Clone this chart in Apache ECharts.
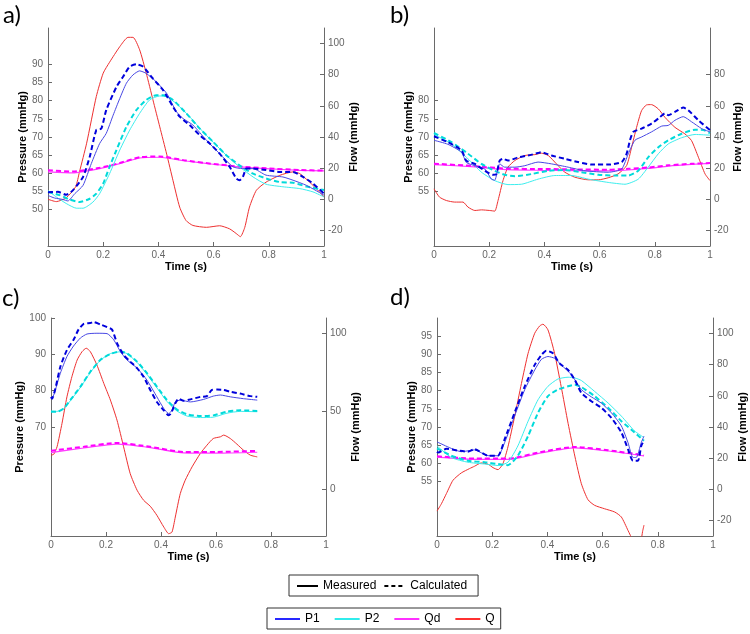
<!DOCTYPE html>
<html><head><meta charset="utf-8">
<script src="https://cdn.jsdelivr.net/npm/echarts@6/dist/echarts.min.js"></script>
<style>html,body{margin:0;padding:0;background:#fff}#c{width:750px;height:634px}</style>
</head><body><div id="c"></div>
<script>
// ---------- Panel a ----------
const aQ_t = [0,0.03,0.066,0.10,0.114,0.14,0.175,0.20,0.223,0.26,0.29,0.308,0.332,0.356,0.38,0.405,0.43,0.453,0.477,0.50,0.525,0.574,0.622,0.658,0.682,0.697,0.713,0.73,0.755,0.79,0.84,0.888,0.912,0.948,0.984,1];
const aQ   = [0,-1.5,1,8,17.6,36,66,81,88,98,104,104,96,81,64,46.5,29,12,-5,-13.6,-16.8,-18,-17,-19,-22,-24,-18,-5,5.8,11,15.4,17.6,16.5,11,4.7,1.5];
const aP1m_t = [0,0.024,0.054,0.072,0.097,0.127,0.157,0.187,0.211,0.236,0.26,0.284,0.308,0.332,0.356,0.392,0.43,0.465,0.489,0.525,0.574,0.622,0.67,0.706,0.743,0.79,0.851,0.888,0.936,1];
const aP1m   = [53.9,53.2,52.8,52.4,54.4,56.7,62.7,68.2,71,76,80.6,84.8,87.1,88.2,87.5,85.2,82,77,75.1,73.3,69.1,65.4,61.8,61.3,61.3,59.5,59,58.1,56.7,54];
const aP1c_t = [0,0.036,0.066,0.09,0.127,0.151,0.175,0.193,0.211,0.248,0.272,0.296,0.32,0.344,0.38,0.417,0.453,0.477,0.513,0.55,0.586,0.622,0.658,0.682,0.694,0.706,0.719,0.743,0.79,0.84,0.888,0.924,0.96,1];
const aP1c   = [54.8,54.9,54.1,55.3,59,64.5,71.9,72.3,77.4,83.8,86.6,89.4,90,89.4,86.1,82.9,78.3,75.6,73.3,70.5,68.2,65.4,61.8,58.6,58.1,59,61.3,61.3,60.9,60.4,60.4,59,57.2,54.4];
const aP2m_t = [0,0.03,0.066,0.103,0.127,0.163,0.187,0.223,0.26,0.296,0.332,0.368,0.405,0.43,0.465,0.513,0.562,0.61,0.658,0.694,0.743,0.79,0.851,0.912,0.96,1];
const aP2m   = [55.3,53.5,51.7,50.4,50.4,52.1,54.4,59.9,66.4,71.9,76.5,80.2,81.3,81.1,79.2,75.6,71.4,67.7,64.1,61.8,59,57,56.3,55.8,54.9,53.5];
const aP2c_t = [0,0.042,0.078,0.115,0.151,0.175,0.2,0.223,0.248,0.284,0.32,0.356,0.392,0.417,0.453,0.501,0.55,0.598,0.646,0.694,0.743,0.79,0.84,0.888,0.936,1];
const aP2c   = [54.9,54,52.8,52.1,53,54.4,57.2,61.8,66.4,72.8,77.4,80.2,81.5,81.5,80.2,76.5,72.3,68.7,65,62.2,59.9,58.6,57.6,57.4,56.4,55.4];
const aQd_t = [0,0.09,0.187,0.26,0.332,0.405,0.5,0.598,0.694,0.79,0.912,1];
const aQdm  = [17.6,16.9,19.7,22.9,26.5,27,24.6,22.5,20.8,19.7,18.6,18.2];
const aQdc  = [18.6,17.8,20.2,23.3,27,27.5,24.9,22.7,21,19.9,18.8,18.4];

// ---------- Panel b ----------
const bQ_t = [0,0.02,0.045,0.075,0.105,0.123,0.148,0.172,0.202,0.22,0.232,0.25,0.268,0.293,0.329,0.365,0.389,0.414,0.444,0.474,0.51,0.559,0.595,0.631,0.667,0.698,0.716,0.734,0.752,0.77,0.788,0.813,0.837,0.873,0.909,0.933,0.958,0.982,1];
const bQ   = [6.7,1.4,-0.8,-1.8,-1.8,-5,-7.2,-6.8,-7.2,-7.6,-0.8,12,20.6,24.9,28.1,28.7,29.6,28.1,22.7,17.4,14.2,12.5,12.5,13.8,16.3,21.7,33.4,46.2,56.9,60.6,60.8,58,52.6,46.2,42,37.7,27,16.3,12];
const bP1m_t = [0,0.05,0.1,0.117,0.148,0.184,0.208,0.22,0.238,0.256,0.293,0.329,0.377,0.426,0.486,0.547,0.631,0.68,0.704,0.728,0.752,0.788,0.825,0.849,0.873,0.903,0.933,0.97,1];
const bP1m   = [69.1,68,65.8,63,62.1,61.2,58.4,58.1,62.6,61.7,61.7,62.1,63.1,62.6,61.7,60.7,60.3,61.2,65.4,69.1,70,71.4,73,73.2,74.6,75.6,74.2,72.3,71.4];
const bP1c_t = [0,0.05,0.1,0.117,0.148,0.184,0.214,0.226,0.238,0.25,0.268,0.305,0.341,0.377,0.389,0.426,0.474,0.522,0.571,0.631,0.68,0.698,0.71,0.722,0.752,0.788,0.813,0.837,0.849,0.873,0.903,0.921,0.958,1];
const bP1c   = [70.2,68.6,66.3,63.5,62.6,60.7,59.6,59.8,63.5,64,63.5,64.4,64.9,65.6,65.8,64.9,64,63.1,62.4,62.4,63.1,65.4,69.1,71.4,72.3,73.7,75.1,76.5,76,76.9,78.1,77.4,74.6,71.9];
const bP2m_t = [0,0.063,0.123,0.172,0.22,0.268,0.317,0.377,0.438,0.498,0.559,0.631,0.692,0.74,0.776,0.813,0.849,0.897,0.946,1];
const bP2m   = [70.7,68.1,64,60.3,58,56.9,57,58.4,59.4,59.4,58.4,57.5,57,58.4,61.7,65.4,68.1,69.8,70.7,70.5];
const bP2c_t = [0,0.063,0.123,0.172,0.22,0.256,0.293,0.353,0.414,0.474,0.534,0.595,0.655,0.704,0.74,0.776,0.813,0.849,0.897,0.946,0.976,1];
const bP2c   = [71.1,68.6,65.4,62.6,60.7,59.6,59.2,59.8,60.7,60.9,60.3,59.6,59.4,59.4,60.7,64.4,67.2,69.1,70.9,72,71.9,71.1];
const bQd_t = [0,0.148,0.268,0.389,0.51,0.631,0.704,0.776,0.849,0.933,1];
const bQdm  = [22.3,20.8,19,18.6,18.4,18.2,18.8,19.8,21.3,22.4,23];
const bQdc  = [22.9,21.3,19.6,19.5,19.2,19,19.6,20.4,21.8,22.8,23.3];

// ---------- Panel c ----------
const cQ_t = [0,0.01,0.022,0.04,0.058,0.076,0.095,0.113,0.128,0.143,0.167,0.192,0.216,0.24,0.264,0.288,0.313,0.337,0.361,0.385,0.41,0.428,0.44,0.452,0.47,0.488,0.513,0.543,0.567,0.59,0.616,0.628,0.652,0.676,0.7,0.725,0.75];
const cQ   = [21.9,22.5,27.3,42.3,59.4,72.3,83,88.4,90.6,88.4,79.8,68,57.3,44.4,27.3,10.1,-0.6,-7.1,-10.9,-16.7,-24.2,-28.5,-27.5,-17.8,-2.8,5.8,14.4,23,28.3,32.6,33.7,34.8,32.6,29,25.1,21.9,20.8];
const cP1m_t = [0,0.01,0.034,0.058,0.082,0.107,0.131,0.167,0.204,0.228,0.252,0.276,0.313,0.349,0.385,0.41,0.428,0.44,0.452,0.47,0.507,0.555,0.59,0.616,0.652,0.7,0.75];
const cP1m   = [77.8,78.8,84.8,89.4,92.3,94.5,95.6,95.8,95.7,94,90.8,88.5,86.2,82.9,78.3,75.1,73.7,74.6,76.9,77.4,76.9,77.6,78.5,78.8,78.3,77.8,77.4];
const cP1c_t = [0,0.004,0.016,0.034,0.058,0.082,0.1,0.119,0.143,0.155,0.18,0.204,0.222,0.24,0.264,0.288,0.313,0.337,0.361,0.385,0.41,0.428,0.436,0.452,0.464,0.482,0.507,0.543,0.567,0.585,0.604,0.628,0.652,0.688,0.725,0.75];
const cP1c   = [78.3,77.8,80.6,86.6,91.2,94,96.8,98.4,98.6,98.9,98.2,97.5,96.8,93.1,89.8,88,86.2,83.8,80.2,76.9,74.6,73.2,73.7,76.5,77.8,77.2,77.6,78.3,78.5,80.2,80.3,80.2,79.7,79.2,78.5,78.3];
const cP2_t  = [0,0.022,0.046,0.07,0.107,0.143,0.18,0.216,0.252,0.276,0.313,0.349,0.385,0.422,0.458,0.495,0.543,0.59,0.64,0.688,0.75];
const cP2m   = [74.4,74.3,75,77.2,80.9,85,88.4,90.2,90.7,90.2,87.8,84.5,80.8,77,74.4,73,72.6,72.7,73.8,74.3,74.2];
const cP2c   = [74.2,74.2,75.1,77.4,81.1,85.2,88.5,90.1,90.8,90.3,88,84.8,81.1,77.4,74.8,73.5,73,73.2,74.2,74.6,74.4];
const cQd_t = [0,0.119,0.24,0.361,0.482,0.604,0.75];
const cQdm  = [23.6,26.5,29,26.8,23.4,23.2,23.8];
const cQdc  = [24.7,27.3,29.8,27.3,24,24,24.7];

// ---------- Panel d ----------
const dQ_t = [0,0.016,0.034,0.058,0.088,0.118,0.136,0.16,0.185,0.203,0.221,0.239,0.257,0.281,0.306,0.33,0.354,0.372,0.384,0.402,0.426,0.45,0.475,0.5,0.523,0.547,0.571,0.607,0.644,0.668,0.692,0.71,0.725,0.738,0.745,0.75];
const dQ   = [-14,-9.3,-2.8,5.8,10.5,13.3,14.8,16.9,16.1,13.9,12.6,16.5,27.2,46.5,68,87.3,100.2,104.9,106,102.4,87.3,65.9,42.3,20.8,3.6,-6.7,-10.3,-12.5,-14.6,-17.8,-26.4,-33,-38,-34,-27,-23];
const dP1m_t = [0,0.052,0.088,0.136,0.185,0.221,0.245,0.281,0.318,0.354,0.378,0.402,0.426,0.45,0.487,0.523,0.559,0.595,0.632,0.668,0.692,0.71,0.722,0.74,0.75];
const dP1m   = [65.9,64.1,63.2,63.7,62.1,62.1,65.7,73,80.3,85.7,88.6,89.4,88.9,87.1,84.4,80.3,78.3,76.6,73.9,70.3,65.7,61.6,61.6,65.7,67.5];
const dP1c_t = [0,0.004,0.034,0.076,0.112,0.136,0.185,0.221,0.245,0.281,0.318,0.354,0.378,0.396,0.42,0.444,0.475,0.499,0.523,0.559,0.595,0.632,0.668,0.692,0.71,0.728,0.74,0.75];
const dP1c   = [63.2,63,64,63.5,63.2,63.9,62.1,62.1,66.6,73.9,81.2,87.1,89.8,91,90.3,87.5,85.7,83,79.4,77.1,75.3,72.5,68.5,63.9,60.7,60.7,64.8,66.2];
const dP2_t  = [0,0.052,0.112,0.173,0.221,0.257,0.293,0.33,0.366,0.402,0.438,0.475,0.499,0.523,0.571,0.62,0.668,0.716,0.75];
const dP2m   = [64.8,61.6,60.3,59.8,59.4,60.3,64.8,71.6,77.5,81.2,83.2,83.7,83.5,82.8,79.8,76.6,73,68.9,67.1];
const dP2c   = [64.1,62.1,60.7,60.3,59.8,59.5,62.1,67.5,73.9,78.5,80.3,81.2,81.6,81,78.5,75.3,71.6,68.5,66.2];
const dQd_t = [0,0.136,0.257,0.378,0.499,0.62,0.75];
const dQdm  = [20.6,19.2,19.2,23.4,26.6,24.6,21.4];
const dQdc  = [21.2,19.7,19.7,24,27.2,25.1,21.9];

// ---------- Tick labels ----------
const xTicks = [0,0.2,0.4,0.6,0.8,1];
const pTicks = [[50,55,60,65,70,75,80,85,90],[55,60,65,70,75,80],[70,80,90,100],[55,60,65,70,75,80,85,90,95]];
const fTicks = [[-20,0,20,40,60,80,100],[-20,0,20,40,60,80],[0,50,100],[-20,0,20,40,60,80,100]];
const panelLabels = ['a)','b)','c)','d)'];
const legendStyle = ['Measured','Calculated'];
const legendVars = ['P1','P2','Qd','Q'];

const panels = [
  {Q:[aQ_t,aQ], P1m:[aP1m_t,aP1m], P1c:[aP1c_t,aP1c], P2m:[aP2m_t,aP2m], P2c:[aP2c_t,aP2c], Qdm:[aQd_t,aQdm], Qdc:[aQd_t,aQdc]},
  {Q:[bQ_t,bQ], P1m:[bP1m_t,bP1m], P1c:[bP1c_t,bP1c], P2m:[bP2m_t,bP2m], P2c:[bP2c_t,bP2c], Qdm:[bQd_t,bQdm], Qdc:[bQd_t,bQdc]},
  {Q:[cQ_t,cQ], P1m:[cP1m_t,cP1m], P1c:[cP1c_t,cP1c], P2m:[cP2_t,cP2m], P2c:[cP2_t,cP2c], Qdm:[cQd_t,cQdm], Qdc:[cQd_t,cQdc]},
  {Q:[dQ_t,dQ], P1m:[dP1m_t,dP1m], P1c:[dP1c_t,dP1c], P2m:[dP2_t,dP2m], P2c:[dP2_t,dP2c], Qdm:[dQd_t,dQdm], Qdc:[dQd_t,dQdc]}
];

const FONT = '"Liberation Sans", Arial, sans-serif';
const AX = '#6a6a6a';
const LBL = '#666';
const DASH = [5,3];
const gridPos = [
  {left:48, top:28, width:276, height:218},
  {left:434, top:28, width:276, height:218},
  {left:51, top:318, width:275, height:218},
  {left:437, top:318, width:276, height:218}
];
const COL = {P1m:'#4848e4', P1c:'#0000dc', P2m:'#3ceeee', P2c:'#00dada', Qdm:'#ff40ff', Qdc:'#ff00ff', Q:'#ee3030'};

const grid = gridPos.map(g => Object.assign({containLabel:false}, g));
const xAxis = [], yAxis = [], series = [];
gridPos.forEach((g, i) => {
  xAxis.push({
    gridIndex:i, type:'value', min:0, max:1, interval:0.2,
    name:'Time (s)', nameLocation:'middle', nameGap:15,
    nameTextStyle:{fontWeight:'bold', fontSize:11, color:'#000', fontFamily:FONT},
    axisLine:{show:true, onZero:false, lineStyle:{color:AX, width:1}},
    axisTick:{show:true, inside:true, length:4, lineStyle:{color:AX}},
    axisLabel:{color:LBL, fontSize:10, margin:4, fontFamily:FONT, customValues:xTicks},
    splitLine:{show:false}
  });
  yAxis.push({
    gridIndex:i, type:'value', position:'left', min:40, max:100,
    name:'Pressure (mmHg)', nameLocation:'middle', nameGap:18, nameRotate:90,
    nameTextStyle:{fontWeight:'bold', fontSize:11, color:'#000', fontFamily:FONT},
    axisLine:{show:true, onZero:false, lineStyle:{color:AX, width:1}},
    axisTick:{show:true, inside:true, length:4, lineStyle:{color:AX}, customValues:pTicks[i]},
    axisLabel:{color:LBL, fontSize:10, margin:5, fontFamily:FONT, customValues:pTicks[i]},
    splitLine:{show:false}
  });
  yAxis.push({
    gridIndex:i, type:'value', position:'right', min:-30, max:110,
    name:'Flow (mmHg)', nameLocation:'middle', nameGap:22, nameRotate:90,
    nameTextStyle:{fontWeight:'bold', fontSize:11, color:'#000', fontFamily:FONT},
    axisLine:{show:true, onZero:false, lineStyle:{color:AX, width:1}},
    axisTick:{show:true, inside:true, length:4, lineStyle:{color:AX}, customValues:fTicks[i]},
    axisLabel:{color:LBL, fontSize:10, margin:4, fontFamily:FONT, customValues:fTicks[i]},
    splitLine:{show:false}
  });
  const p = panels[i];
  const mk = (key, yi, width, dashed, z) => ({
    type:'line', name:'p'+i+key, xAxisIndex:i, yAxisIndex:2*i+yi,
    data:p[key][0].map((t,k)=>[t, p[key][1][k]]),
    symbol:'none', showSymbol:false, smooth:0.2, clip:true, silent:true, z:z,
    lineStyle:{color:COL[key], width:width, type: dashed ? DASH : 'solid'},
    itemStyle:{color:COL[key]}
  });
  series.push(mk('Q',1,1,false,2));
  series.push(mk('Qdm',1,1.2,false,3));
  series.push(mk('Qdc',1,2,true,3));
  series.push(mk('P2m',0,1,false,4));
  series.push(mk('P2c',0,2,true,4));
  series.push(mk('P1m',0,1,false,5));
  series.push(mk('P1c',0,2,true,5));
});

// legend-only series
const dummy = (name, color, width, type) => ({type:'line', name, xAxisIndex:0, yAxisIndex:0, data:[], symbol:'none',
  lineStyle:{color, width, type}, itemStyle:{color}});
series.push(dummy(legendStyle[0], '#000', 1.5, 'solid'));
series.push(dummy(legendStyle[1], '#000', 1.5, [4,3]));
series.push(dummy(legendVars[0], '#2828ff', 1, 'solid'));
series.push(dummy(legendVars[1], '#30ecec', 1, 'solid'));
series.push(dummy(legendVars[2], '#ff30ff', 1, 'solid'));
series.push(dummy(legendVars[3], '#ff3030', 1, 'solid'));

const labelPos = [[3,17],[390,17],[2,300],[390,299]];
const graphic = panelLabels.map((t,i)=>({type:'text', left:labelPos[i][0], top:labelPos[i][1]-14,
  style:{text:t, font:'24px Lato, "Open Sans", sans-serif', fill:'#000'}}));

const legendCommon = {orient:'horizontal', itemHeight:12, borderColor:'#333', borderWidth:1, selectedMode:false,
  itemStyle:{color:'rgba(0,0,0,0)', borderWidth:0, borderColor:'rgba(0,0,0,0)', opacity:0},
  textStyle:{fontSize:12, fontFamily:FONT, color:'#000'}};

const chart = echarts.init(document.getElementById('c'), null, {renderer:'canvas'});
chart.setOption({
  animation:false,
  backgroundColor:'#fff',
  grid, xAxis, yAxis, series, graphic,
  legend:[
    Object.assign({data:legendStyle, left:289, top:575, itemWidth:21, itemGap:7, padding:[5,11,4,7]}, legendCommon),
    Object.assign({data:legendVars, left:267, top:608, itemWidth:25, itemGap:14, padding:[5,6,4,7]}, legendCommon)
  ]
});
</script></body></html>
